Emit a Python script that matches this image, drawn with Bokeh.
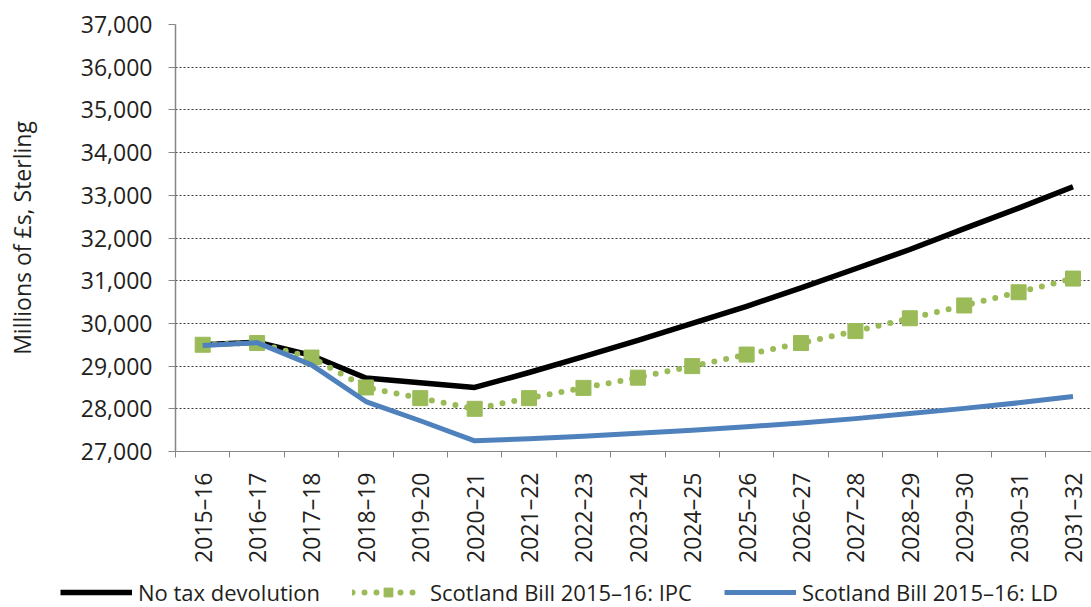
import math
from bokeh.plotting import figure
from bokeh.layouts import column
from bokeh.models import (Range1d, FixedTicker, NumeralTickFormatter, Legend, LegendItem)
from bokeh.embed import file_html
from bokeh.resources import INLINE

categories = ["2015–16", "2016–17", "2017–18", "2018–19", "2019–20", "2020–21",
              "2021–22", "2022–23", "2023–24", "2024–25", "2025–26", "2026–27",
              "2027–28", "2028–29", "2029–30", "2030–31", "2031–32"]
no_devolution = [29500, 29560, 29250, 28720, 28610, 28500, 28850, 29220, 29600,
                 30000, 30400, 30830, 31280, 31730, 32220, 32700, 33200]
ipc = [29500, 29540, 29200, 28500, 28250, 28000, 28250, 28490, 28730,
       29000, 29270, 29540, 29820, 30120, 30420, 30730, 31050]
ld = [29480, 29550, 29030, 28170, 27720, 27250, 27300, 27360, 27430,
      27500, 27580, 27670, 27770, 27890, 28010, 28140, 28290]
y_ticks = [27000, 28000, 29000, 30000, 31000, 32000, 33000, 34000, 35000, 36000, 37000]
y_label = "Millions of £s, Sterling"
series_names = ["No tax devolution", "Scotland Bill 2015–16: IPC", "Scotland Bill 2015–16: LD"]

FONT = "Open Sans"
TXT = "#231f20"
BLACK = "#000000"
GREEN = "#9bbb59"
BLUE = "#4f81bd"
AXIS = "#868686"

xs = list(range(len(categories)))

p = figure(width=1091, height=575, output_backend="svg", toolbar_location=None,
           x_range=Range1d(-0.5, 16.34), y_range=Range1d(y_ticks[0], y_ticks[-1]),
           min_border_left=175, min_border_right=0, min_border_top=24,
           min_border_bottom=124)
p.outline_line_color = None
p.background_fill_color = "white"
p.border_fill_color = "white"

# x axis
p.xaxis.ticker = FixedTicker(ticks=xs, minor_ticks=[i - 0.5 for i in range(len(xs) + 1)])
p.xaxis.major_label_overrides = {i: c for i, c in enumerate(categories)}
p.xaxis.major_label_orientation = math.pi / 2
p.xaxis.major_tick_out = 0
p.xaxis.major_tick_in = 0
p.xaxis.minor_tick_out = 6
p.xaxis.minor_tick_in = 0
p.xaxis.minor_tick_line_color = AXIS
p.xaxis.axis_line_color = AXIS
p.xaxis.axis_line_width = 1
p.xaxis.major_label_standoff = 15
p.xaxis.major_label_text_font = FONT
p.xaxis.major_label_text_font_size = "23px"
p.xaxis.major_label_text_color = TXT
p.xgrid.grid_line_color = None

# y axis
p.yaxis.ticker = FixedTicker(ticks=y_ticks)
p.yaxis.formatter = NumeralTickFormatter(format="0,0")
p.yaxis.major_tick_out = 7
p.yaxis.major_tick_in = 0
p.yaxis.minor_tick_line_color = None
p.yaxis.major_tick_line_color = AXIS
p.yaxis.axis_line_color = AXIS
p.yaxis.axis_line_width = 1.5
p.yaxis.major_label_standoff = 16
p.yaxis.major_label_text_font = FONT
p.yaxis.major_label_text_font_size = "23px"
p.yaxis.major_label_text_color = TXT
p.yaxis.axis_label = y_label
p.yaxis.axis_label_text_font = FONT
p.yaxis.axis_label_text_font_size = "23px"
p.yaxis.axis_label_text_font_style = "normal"
p.yaxis.axis_label_text_color = TXT
p.yaxis.axis_label_standoff = 40
p.ygrid.grid_line_color = "#3a3a3a"
p.ygrid.grid_line_dash = "2 2"
p.ygrid.grid_line_width = 1


def draw_series(fig):
    rb = fig.line(xs, no_devolution, line_color=BLACK, line_width=5.5, line_join="round")
    rgl = fig.line(xs, ipc, line_color=GREEN, line_width=6, line_dash="0 12",
                   line_cap="round")
    rgs = fig.scatter(xs, ipc, marker="square", size=15, fill_color=GREEN,
                      line_color=GREEN)
    rbl = fig.line(xs, ld, line_color=BLUE, line_width=5, line_join="round")
    return rb, rgl, rgs, rbl


draw_series(p)

# legend strip below the chart (series drawn out of its view, only the legend shows)
q = figure(width=1091, height=32, output_backend="svg", toolbar_location=None,
           x_range=Range1d(-1000, -999), y_range=Range1d(0, 1),
           min_border_left=0, min_border_right=0, min_border_top=0, min_border_bottom=0)
q.axis.visible = False
q.grid.grid_line_color = None
q.outline_line_color = None
q.background_fill_color = "white"
q.border_fill_color = "white"
qb, qgl, qgs, qbl = draw_series(q)

legend_x = 60
try:
    q.frame_align = False
    p.frame_align = False
except AttributeError:
    legend_x = -115

legend = Legend(items=[
    LegendItem(label=series_names[0], renderers=[qb]),
    LegendItem(label=series_names[1], renderers=[qgl, qgs]),
    LegendItem(label=series_names[2], renderers=[qbl]),
], orientation="horizontal", location=(legend_x, 0))
legend.label_text_font = FONT
legend.label_text_font_size = "22px"
legend.label_text_color = TXT
legend.glyph_width = 72
legend.glyph_height = 22
legend.label_height = 22
legend.label_standoff = 6
legend.spacing = 32
legend.padding = 0
legend.margin = 0
legend.border_line_color = None
legend.background_fill_alpha = 0
q.add_layout(legend, "center")

layout = column(p, q, spacing=0)
open("out.html", "w").write(file_html(layout, INLINE))
